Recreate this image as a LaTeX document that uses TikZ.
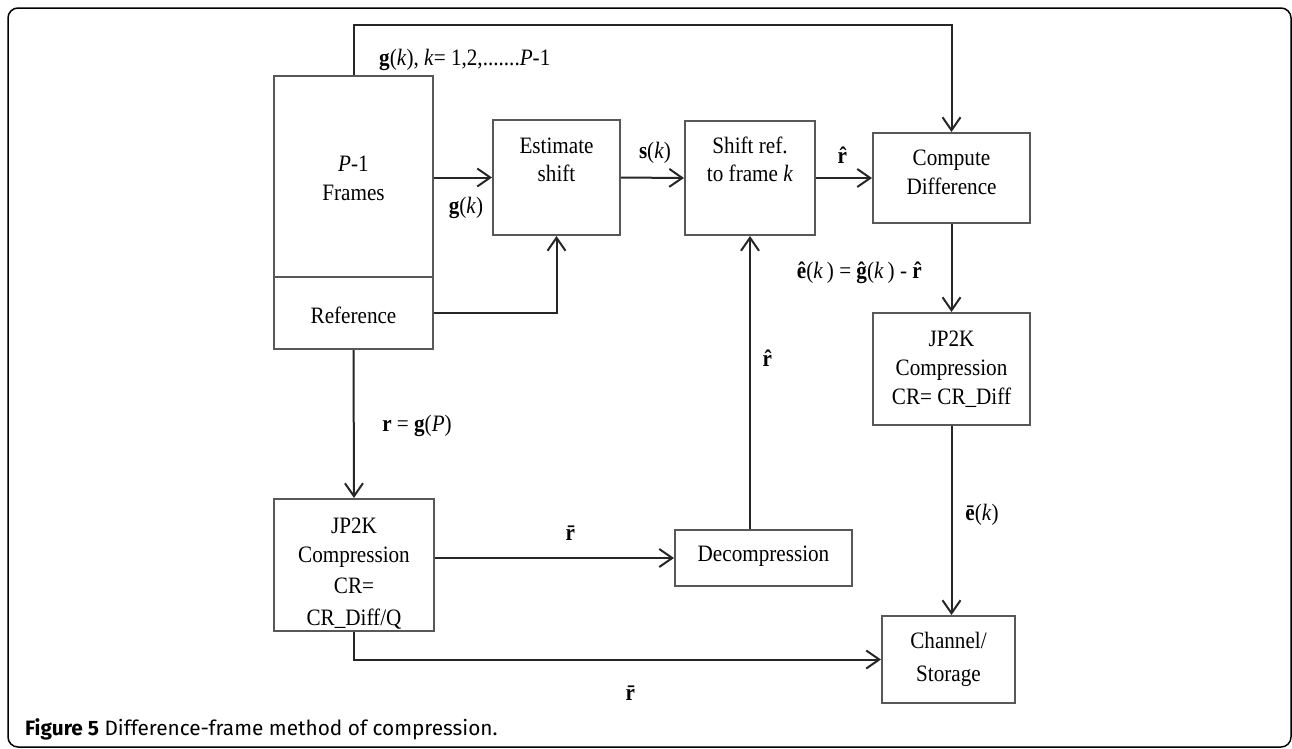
\documentclass[tikz,border=0pt]{standalone}
\usepackage{fontspec}
\setmainfont[FakeStretch=0.9]{Liberation Serif}
\newfontfamily\capfont{Fira Sans}
\usetikzlibrary{arrows.meta}
\definecolor{boxgray}{HTML}{585858}
\newcommand\rhat{\textbf{r̂}}
\newcommand\rbar{\textbf{r̄}}
\begin{document}
\begin{tikzpicture}[x=1pt,y=-1pt,
  blk/.style={draw=boxgray,line width=2pt,rectangle,inner sep=0pt},
  txt/.style={anchor=base,inner sep=0pt,font=\fontsize{23.5}{28}\selectfont},
  conn/.style={line width=2pt,draw=black!85},
  arr/.style={conn,-{Straight Barb[length=13pt,width=18pt,line width=2pt]}}]
\useasboundingbox (0,0) rectangle (1292,748);
\draw[line width=1.5pt,rounded corners=10pt] (8,8) rectangle (1291,747);
% boxes
\node[blk,minimum width=159pt,minimum height=201pt] (frames) at (353.5,176.5) {};
\node[blk,minimum width=159pt,minimum height=72pt] (ref) at (353.5,313) {};
\node[blk,minimum width=127pt,minimum height=115pt] (est) at (556.5,177.5) {};
\node[blk,minimum width=130pt,minimum height=114pt] (shift) at (750,178) {};
\node[blk,minimum width=157pt,minimum height=90pt] (cdiff) at (951.5,178) {};
\node[blk,minimum width=157pt,minimum height=112pt] (jp2r) at (951.5,369) {};
\node[blk,minimum width=177pt,minimum height=56pt] (dec) at (763.5,558) {};
\node[blk,minimum width=160pt,minimum height=132pt] (jp2l) at (354,565) {};
\node[blk,minimum width=133pt,minimum height=87pt] (chan) at (948.5,659.5) {};
% box texts
\node[txt] (tf1) at (353.5,171) {\textit{P}-1};
\node[txt] (tf2) at (353.5,200) {Frames};
\node[txt] (tr1) at (353.5,323) {Reference};
\node[txt] (te1) at (556.5,153) {Estimate};
\node[txt] (te2) at (556.5,181) {shift};
\node[txt] (ts1) at (750,153) {Shift ref.};
\node[txt] (ts2) at (750,181) {to frame \textit{k}};
\node[txt] (tc1) at (951.5,165) {Compute};
\node[txt] (tc2) at (951.5,194) {Difference};
\node[txt] (tj1) at (951.5,346) {JP2K};
\node[txt] (tj2) at (951.5,375) {Compression};
\node[txt] (tj3) at (951.5,404) {CR= CR\_Diff};
\node[txt] (td1) at (763.5,561) {Decompression};
\node[txt] (tl1) at (354,533) {JP2K};
\node[txt] (tl2) at (354,562) {Compression};
\node[txt] (tl3) at (354,593) {CR=};
\node[txt] (tl4) at (354,625) {CR\_Diff/Q};
\node[txt] (tch1) at (948.5,648) {Channel/};
\node[txt] (tch2) at (948.5,681) {Storage};
% connectors
\draw[arr] (frames.north) -- ++(0,-50) -| (cdiff.north);
\draw[arr] (est.west -| frames.east) -- (est.west);
\draw[arr] (ref.east) -| (est.south);
\draw[arr] (est.east) -- (shift.west);
\draw[arr] (shift.east) -- (cdiff.west);
\draw[arr] (cdiff.south) -- (jp2r.north);
\draw[arr] (jp2r.south) -- (jp2r.south |- chan.north);
\draw[arr] (ref.south) -- (jp2l.north);
\draw[arr] (dec.west -| jp2l.east) -- (dec.west);
\draw[arr] (dec.north -| shift.south) -- (shift.south);
\draw[arr] (jp2l.south) |- (chan.west);
% connector labels
\node[txt,anchor=base west] (lg) at (379,65) {\textbf{g}(\textit{k}), \textit{k}= 1,2,.......\textit{P}-1};
\node[txt] (lgk) at (466,213) {\textbf{g}(\textit{k})};
\node[txt] (lsk) at (655,158) {\textbf{s}(\textit{k})};
\node[txt] (lr1) at (844,163) {\rhat};
\node[txt] (le) at (861,278) {\textbf{ê}(\textit{k}\,) = \textbf{ĝ}(\textit{k}\,) - \rhat};
\node[txt] (lr2) at (769,366) {\rhat};
\node[txt] (lrg) at (417,431) {\textbf{r} = \textbf{g}(\textit{P})};
\node[txt] (lb1) at (572,540) {\rbar};
\node[txt] (lb2) at (632,700) {\rbar};
\node[txt] (lek) at (982,520) {\textbf{ē}(\textit{k})};
% caption
\node[anchor=base west,inner sep=0pt,font=\capfont\fontsize{20.8}{24}\selectfont] (cap) at (25,735) {\textbf{Figure 5} Difference-frame method of compression.};
\end{tikzpicture}
\end{document}
